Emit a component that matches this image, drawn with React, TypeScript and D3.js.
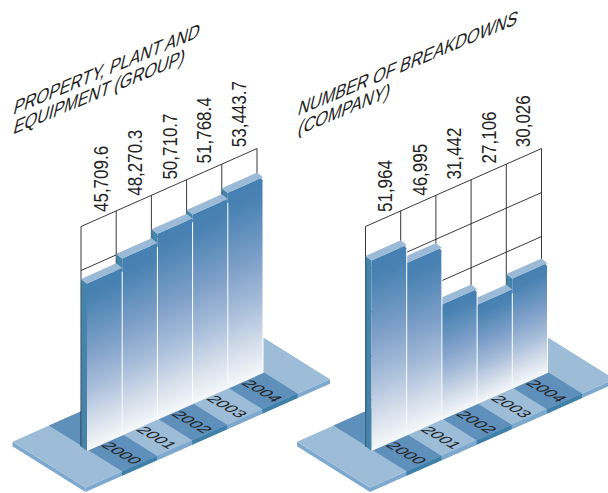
import React from "react";
import * as d3 from "d3";

const years = ["2000", "2001", "2002", "2003", "2004"];
const propertyValues = [45709.6, 48270.3, 50710.7, 51768.4, 53443.7];
const propertyLabels = ["45,709.6", "48,270.3", "50,710.7", "51,768.4", "53,443.7"];
const breakdownValues = [51964, 46995, 31442, 27106, 30026];
const breakdownLabels = ["51,964", "46,995", "31,442", "27,106", "30,026"];
const propertyTitle = ["PROPERTY, PLANT AND", "EQUIPMENT (GROUP)"];
const breakdownTitle = ["NUMBER OF BREAKDOWNS", "(COMPANY)"];
const gridValues = [0, 12000, 24000, 36000, 48000, 60000];

const FONT = "'Liberation Sans', Arial, sans-serif";
const SLOPE = 0.443;
const BASE_Y = 451;
const SIDE_DX = 6;
const SIDE_DY = 4.5;
const DEPTH_DX = 33.5;
const DEPTH_DY = 21;

const C = {
  plate: "#9dbcd8",
  cell: "#5f8fbb",
  edgeLight: "#7ea9ce",
  edgeDark: "#3f80a9",
  top: "#9abad7",
  side: "#4784a9",
  sideLine: "#3b6f96",
  line: "#222222",
  text: "#222222",
};

type Pt = [number, number];
const pts = (p: Pt[]) => p.map((q) => q.join(",")).join(" ");

const xBand = d3.scaleBand<string>().domain(years).range([87, 263]);
const heightScale = d3.scaleLinear().domain([0, 60000]).range([0, 220]);
const baseY = (x: number) => BASE_Y - SLOPE * (x - 87);
// A spot on the floor: x along the front of the bars, d towards the viewer.
const floorPt = (x: number, d: number): Pt => [x + DEPTH_DX * d, baseY(x) + DEPTH_DY * d];

function Floor() {
  const back = -1.18;
  const left = 52;
  const start = 88.5;
  const end = 264;
  const right = 296.5;
  const w = (end - start) / years.length;
  const drop = (p: Pt): Pt => [p[0], p[1] + 4.5];
  return (
    <g>
      <polygon
        points={pts([floorPt(left, back), floorPt(left, 1), drop(floorPt(left, 1)), drop(floorPt(left, back))])}
        fill={C.edgeLight}
      />
      <polygon
        points={pts([floorPt(left, 1), floorPt(right, 1), drop(floorPt(right, 1)), drop(floorPt(left, 1))])}
        fill={C.edgeLight}
      />
      <polygon
        points={pts([floorPt(left, back), floorPt(right, back), floorPt(right, 1), floorPt(left, 1)])}
        fill={C.plate}
      />
      <polygon
        points={pts([floorPt(start, back), floorPt(end, back), floorPt(end, 0), floorPt(start, 0)])}
        fill={C.cell}
      />
      {years.map((y, i) => {
        const a = start + i * w;
        const b = a + w;
        const dark = i % 2 === 0;
        return (
          <g key={y}>
            <polygon
              points={pts([floorPt(a, 0), floorPt(b, 0), floorPt(b, 1), floorPt(a, 1)])}
              fill={dark ? C.cell : C.plate}
            />
            <polygon
              points={pts([floorPt(a, 1), floorPt(b, 1), drop(floorPt(b, 1)), drop(floorPt(a, 1))])}
              fill={dark ? C.edgeDark : C.edgeLight}
            />
          </g>
        );
      })}
    </g>
  );
}

function YearLabels() {
  const start = 88.5;
  const w = (264 - start) / years.length;
  return (
    <g>
      {years.map((y, i) => {
        const c = floorPt(start + (i + 0.5) * w, 0.5);
        return (
          <text
            key={y}
            transform={`matrix(1,0.58,-0.95,0.42,${c[0] - 1},${c[1]})`}
            textAnchor="middle"
            y={5.2}
            fontFamily={FONT}
            fontSize={15}
            fill={C.text}
          >
            {y}
          </text>
        );
      })}
    </g>
  );
}

function Grid() {
  const step = xBand.step();
  const x0 = xBand(years[0])! - SIDE_DX;
  const xs = d3.range(years.length + 1).map((i) => x0 + i * step);
  const backY = (x: number, v: number) => baseY(x + SIDE_DX) - SIDE_DY - heightScale(v);
  return (
    <g stroke={C.line} strokeWidth={0.9} fill="none">
      {gridValues.map((v) => (
        <line key={v} x1={xs[0]} x2={xs[xs.length - 1]} y1={backY(xs[0], v)} y2={backY(xs[xs.length - 1], v)} />
      ))}
      {xs.map((x) => (
        <line key={x} x1={x} x2={x} y1={backY(x, 60000)} y2={backY(x, 0)} />
      ))}
    </g>
  );
}

function Bars({ id, values }: { id: string; values: number[] }) {
  const w = xBand.step();
  const order = d3.range(values.length).reverse();
  return (
    <g>
      <defs>
        {values.map((v, i) => {
          const xl = xBand(years[i])!;
          const yTop = baseY(xl) - heightScale(v);
          const h = heightScale(v);
          // Colour bands follow the slant of the bar top.
          const nx = SLOPE / (1 + SLOPE * SLOPE);
          const ny = 1 / (1 + SLOPE * SLOPE);
          return (
            <linearGradient
              key={i}
              id={`${id}-g${i}`}
              gradientUnits="userSpaceOnUse"
              x1={xl}
              y1={yTop}
              x2={xl + nx * h}
              y2={yTop + ny * h}
            >
              <stop offset="0" stopColor="#4580b2" />
              <stop offset="0.1" stopColor="#4a83b3" />
              <stop offset="0.4" stopColor="#7d9fc8" />
              <stop offset="0.62" stopColor="#a6bcd9" />
              <stop offset="0.82" stopColor="#d2dcea" />
              <stop offset="1" stopColor="#f6f8fa" />
            </linearGradient>
          );
        })}
      </defs>
      {order.map((i) => {
        const v = values[i];
        const xl = xBand(years[i])!;
        const xr = xl + w;
        const h = heightScale(v);
        const yl = baseY(xl);
        const yr = baseY(xr);
        const tl: Pt = [xl, yl - h];
        const tr: Pt = [xr, yr - h];
        const bl: Pt = [xl - SIDE_DX, yl - h - SIDE_DY];
        const br: Pt = [xr - SIDE_DX, yr - h - SIDE_DY];
        return (
          <g key={i}>
            <polygon
              points={pts([bl, tl, [xl, yl], [xl - SIDE_DX, yl - SIDE_DY]])}
              fill={C.side}
            />
            <line
              x1={xl - SIDE_DX + 0.5}
              x2={xl - SIDE_DX + 0.5}
              y1={tl[1]}
              y2={yl - SIDE_DY}
              stroke={C.sideLine}
              strokeWidth={1}
            />
            <polygon
              points={pts([tl, [xr - 2, tr[1] + 0.9], [xr, tr[1] + 4], [xr, yr], [xl, yl]])}
              fill={`url(#${id}-g${i})`}
            />
            <polygon points={pts([bl, br, [xr, tr[1] + 0.2], tl])} fill={C.top} />
            <line x1={xr} x2={xr} y1={tr[1] + 4} y2={yr} stroke="#ffffff" strokeWidth={1} />
          </g>
        );
      })}
    </g>
  );
}

function ValueLabels({ labels }: { labels: string[] }) {
  return (
    <g>
      {labels.map((t, i) => {
        const x = 107.5 + i * 34.6;
        const y = 212 - i * 16.2;
        return (
          <text
            key={t}
            transform={`translate(${x},${y}) rotate(-90) scale(1,1.15)`}
            fontFamily={FONT}
            fontSize={17}
            fill={C.text}
          >
            {t}
          </text>
        );
      })}
    </g>
  );
}

function Title({ lines, y }: { lines: string[]; y: number }) {
  return (
    <g>
      {lines.map((t, i) => (
        <text
          key={t}
          transform={`matrix(0.955,-0.4,-0.28,1.22,12.5,${y + i * 19.5})`}
          fontFamily={FONT}
          fontSize={17}
          fill={C.text}
        >
          {t}
        </text>
      ))}
    </g>
  );
}

function Panel({ id, dx, values, labels, title, titleY }: { id: string; dx: number; values: number[]; labels: string[]; title: string[]; titleY: number }) {
  return (
    <g transform={`translate(${dx},0)`}>
      <Floor />
      <Grid />
      <Bars id={id} values={values} />
      <YearLabels />
      <ValueLabels labels={labels} />
      <Title lines={title} y={titleY} />
    </g>
  );
}

export default function App() {
  return (
    <svg
      width={608}
      height={493}
      viewBox="0 0 608 493"
      style={{ position: "absolute", left: 0, top: 0, background: "#ffffff" }}
    >
      <Panel id="ppe" dx={0} values={propertyValues} labels={propertyLabels} title={propertyTitle} titleY={115} />
      <Panel id="brk" dx={284.5} values={breakdownValues} labels={breakdownLabels} title={breakdownTitle} titleY={116} />
    </svg>
  );
}
